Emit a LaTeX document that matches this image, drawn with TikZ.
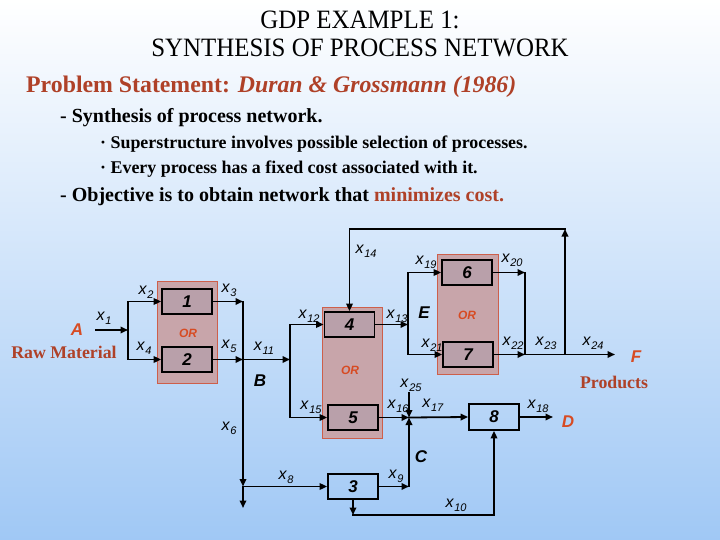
\documentclass[tikz,border=0pt]{standalone}
\usepackage{fontspec}
\setmainfont{Liberation Serif}
\setsansfont{Liberation Sans}
\usetikzlibrary{arrows.meta}
\definecolor{bgbot}{RGB}{160,200,245}
\definecolor{bgmid}{RGB}{215,232,250}
\definecolor{redt}{RGB}{215,75,35}
\definecolor{brownt}{RGB}{175,65,40}
\definecolor{shadefill}{RGB}{200,165,170}
\definecolor{shadeedge}{RGB}{205,95,75}
\definecolor{unitfill}{RGB}{185,160,170}
\newcommand\flowlab[1]{\textit{x}\kern0.3pt\raisebox{-0.5ex}{\fontsize{11}{11}\selectfont\textit{#1}}}
\tikzset{
  wire/.style={line width=1.8pt, line cap=rect},
  flowarrow/.style={wire, -{Triangle[length=7.5pt,width=6.5pt]}},
  unit/.style={draw, line width=1.8pt, minimum width=50pt, minimum height=25pt, inner sep=0pt,
    font=\sffamily\bfseries\itshape\fontsize{17}{17}\selectfont},
  orunit/.style={unit, fill=unitfill},
  orshade/.style={fill=shadefill, draw=shadeedge, line width=0.8pt},
  lab/.style={inner sep=0pt, font=\sffamily\fontsize{16}{16}\selectfont},
  ortext/.style={inner sep=0pt, text=redt, font=\sffamily\bfseries\itshape\fontsize{12}{12}\selectfont},
  streamlab/.style={inner sep=0pt, font=\sffamily\bfseries\itshape\fontsize{17}{17}\selectfont},
  txt/.style={inner sep=0pt, anchor=west, font=\bfseries},
}
\begin{document}
\begin{tikzpicture}[x=1pt,y=-1pt]
\shade[top color=white, middle color=bgmid, bottom color=bgbot] (0,0) rectangle (720,540);
\useasboundingbox (0,0) rectangle (720,540);

% titles
\node[inner sep=0pt, font=\fontsize{26.5}{26.5}\selectfont] (t1) at (360,20) {\scalebox{0.94}[1]{GDP EXAMPLE 1:}};
\node[inner sep=0pt, font=\fontsize{26.5}{26.5}\selectfont] (t2) at (360,48) {\scalebox{0.94}[1]{SYNTHESIS OF PROCESS NETWORK}};
\node[txt, text=brownt, font=\bfseries\fontsize{23.8}{23.8}\selectfont] (ps) at (26,87) {Problem Statement: \textit{Duran \& Grossmann (1986)}};
\node[txt, font=\bfseries\fontsize{20}{20}\selectfont] (l1) at (60,118) {- Synthesis of process network.};
\node[txt, font=\bfseries\fontsize{17.9}{17.9}\selectfont] (l2) at (100,144) {· Superstructure involves possible selection of processes.};
\node[txt, font=\bfseries\fontsize{17.9}{17.9}\selectfont] (l3) at (100,169) {· Every process has a fixed cost associated with it.};
\node[txt, font=\bfseries\fontsize{20}{20}\selectfont] (l4) at (60,197) {- Objective is to obtain network that \textcolor{brownt}{minimizes cost.}};

% OR shades
\fill[orshade] (157,281) rectangle (217,383);
\fill[orshade] (322,307) rectangle (382,438);
\fill[orshade] (437,254) rectangle (498,374);
\draw[shadeedge, line width=0.8pt] (157,281) rectangle (217,383);
\draw[shadeedge, line width=0.8pt] (322,307) rectangle (382,438);
\draw[shadeedge, line width=0.8pt] (437,254) rectangle (498,374);

% units
\node[orunit] (b1) at (187,301.5) {1};
\node[orunit] (b2) at (187,359.5) {2};
\node[orunit] (b4) at (349.5,324.5) {4};
\node[orunit] (b5) at (353,417.5) {5};
\node[unit] (b3) at (353,486.5) {3};
\node[orunit] (b6) at (467,272.5) {6};
\node[orunit] (b7) at (468,354.5) {7};
\node[unit, minimum height=26pt] (b8) at (494,417) {8};

% junctions
\coordinate (ja) at (96,330);
\coordinate (s1) at (128,330);
\coordinate (s1t) at (128,301.5);
\coordinate (s1b) at (128,359.5);
\coordinate (m1) at (243,301.5);
\coordinate (m2) at (243,359.5);
\coordinate (m6) at (243,486.5);
\coordinate (eb) at (243,508);
\coordinate (s2) at (290,359.5);
\coordinate (s2t) at (290,324.5);
\coordinate (s2b) at (290,417.5);
\coordinate (s3) at (408,324.5);
\coordinate (s3t) at (408,272.5);
\coordinate (s3b) at (408,354.5);
\coordinate (m3) at (525,272.5);
\coordinate (m4) at (525,354.5);
\coordinate (m5) at (565,354.5);
\coordinate (tr) at (565,229);
\coordinate (tl) at (349.5,229);
\coordinate (fe) at (615,354.5);
\coordinate (j5) at (409,417.5);
\coordinate (x25s) at (409,393);
\coordinate (j9) at (409,486.5);
\coordinate (k1) at (353,515);
\coordinate (de) at (553,417);

% connectors
\draw[flowarrow] (ja) -- (s1);
\draw[wire] (s1t) -- (s1b);
\draw[flowarrow] (s1t) -- (b1.west);
\draw[flowarrow] (s1b) -- (b2.west);
\draw[flowarrow] (b1.east) -- (m1);
\draw[flowarrow] (b2.east) -- (m2);
\draw[wire] (m1) -- (m2);
\draw[flowarrow] (m2) -- (m6);
\draw[flowarrow] (m6) -- (eb);
\draw[flowarrow] (m6) -- (b3.west);
\draw[flowarrow] (m2) -- (s2);
\draw[wire] (s2t) -- (s2b);
\draw[flowarrow] (s2t) -- (b4.west);
\draw[flowarrow] (s2b) -- (b5.west);
\draw[flowarrow] (b4.east) -- (s3);
\draw[wire] (s3t) -- (s3b);
\draw[flowarrow] (s3t) -- (b6.west);
\draw[flowarrow] (s3b) -- (b7.west);
\draw[flowarrow] (b6.east) -- (m3);
\draw[flowarrow] (b7.east) -- (m4);
\draw[wire] (m3) -- (m4);
\draw[flowarrow] (m4) -- (fe);
\draw[flowarrow] (m5) -- (tr);
\draw[wire] (tr) -- (tl);
\draw[flowarrow] (tl) -- (b4.north);
\draw[flowarrow] (b5.east) -- (j5);
\draw[flowarrow] (x25s) -- (j5);
\draw[flowarrow] (j5) -- (b8.west);
\draw[flowarrow] (b3.east) -- (j9);
\draw[flowarrow] (j9) -- (j5);
\draw[flowarrow] (b3.south) -- (k1);
\draw[flowarrow] (k1) -| (b8.south);
\draw[flowarrow] (b8.east) -- (de);

% flow labels
\node[lab] (lx1) at (104,318) {\flowlab{1}};
\node[lab] (lx2) at (146,292) {\flowlab{2}};
\node[lab] (lx3) at (229,290) {\flowlab{3}};
\node[lab] (lx4) at (144,348) {\flowlab{4}};
\node[lab] (lx5) at (229,346) {\flowlab{5}};
\node[lab] (lx6) at (229,428) {\flowlab{6}};
\node[lab] (lx8) at (286,477) {\flowlab{8}};
\node[lab] (lx9) at (396,476) {\flowlab{9}};
\node[lab] (lx10) at (456,505) {\flowlab{10}};
\node[lab] (lx11) at (264,348) {\flowlab{11}};
\node[lab] (lx12) at (309,316) {\flowlab{12}};
\node[lab] (lx13) at (397,316) {\flowlab{13}};
\node[lab] (lx14) at (366,251) {\flowlab{14}};
\node[lab] (lx15) at (311,407) {\flowlab{15}};
\node[lab] (lx16) at (398,406) {\flowlab{16}};
\node[lab] (lx17) at (433,405) {\flowlab{17}};
\node[lab] (lx18) at (538,406) {\flowlab{18}};
\node[lab] (lx19) at (426,262) {\flowlab{19}};
\node[lab] (lx20) at (512,260) {\flowlab{20}};
\node[lab] (lx21) at (432,345) {\flowlab{21}};
\node[lab] (lx22) at (513,343) {\flowlab{22}};
\node[lab] (lx23) at (546,343) {\flowlab{23}};
\node[lab] (lx24) at (593,343) {\flowlab{24}};
\node[lab] (lx25) at (411,385) {\flowlab{25}};

% other labels
\node[streamlab, text=redt] (la) at (77,330) {A};
\node[inner sep=0pt, text=brownt, font=\bfseries\fontsize{17.8}{17.8}\selectfont] (raw) at (64,352) {Raw Material};
\node[ortext] (or1) at (188,333) {OR};
\node[ortext] (or2) at (350,370) {OR};
\node[ortext] (or3) at (467,315) {OR};
\node[streamlab] (lb) at (260,381) {B};
\node[streamlab] (le) at (424,313) {E};
\node[streamlab] (lc) at (421,457) {C};
\node[streamlab, text=redt] (lf) at (636,357) {F};
\node[inner sep=0pt, text=brownt, font=\bfseries\fontsize{17.8}{17.8}\selectfont] (prod) at (614,382) {Products};
\node[streamlab, text=redt] (ld) at (568,422) {D};
\end{tikzpicture}
\end{document}
